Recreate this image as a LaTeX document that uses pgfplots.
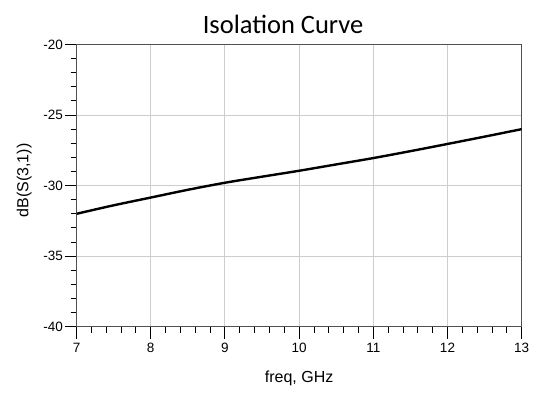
\documentclass[border=0pt]{standalone}
\usepackage{pgfplots}
\pgfplotsset{compat=1.18}
\usepackage{fontspec}
\setmainfont{Liberation Sans}
\newfontfamily\titlefont{Carlito}
\definecolor{gridgray}{RGB}{205,205,205}
\definecolor{axgray}{RGB}{80,80,80}
\begin{document}
\begin{tikzpicture}
\begin{axis}[
  scale only axis,
  width=445pt, height=282pt,
  xmin=7, xmax=13, ymin=-40, ymax=-20,
  xtick={7,8,...,13}, ytick={-40,-35,...,-20},
  minor tick num=4,
  tick align=outside,
  major tick length=12pt, minor tick length=6pt,
  xtick pos=bottom, ytick pos=left,
  grid=major,
  major grid style={gridgray, line width=1pt},
  axis line style={axgray, line width=1.1pt},
  every tick/.style={black, line width=0.9pt},
  tick label style={font=\fontsize{13.5}{15}\selectfont},
  /pgf/number format/assume math mode=true,
  xticklabel style={yshift=-1pt},
  yticklabel style={xshift=2pt},
  xlabel={freq, GHz},
  ylabel={dB(S(3,1))},
  label style={font=\fontsize{16}{18}\selectfont},
  xlabel style={yshift=-11pt},
  ylabel style={yshift=5pt, xshift=5pt},
  title={Isolation Curve},
  title style={font=\titlefont\fontsize{26.5}{30}\selectfont, yshift=1pt, xshift=-16pt},
]
\addplot[black, line width=2.4pt, smooth] coordinates {
(7,-32.0) (7.5,-31.40) (8,-30.85) (8.5,-30.30) (9,-29.80) (9.5,-29.37)
(10,-28.95) (10.5,-28.50) (11,-28.05) (11.5,-27.56) (12,-27.05) (12.5,-26.53) (13,-26.0)
};
\end{axis}
\path (current axis.south west) ++(-76.5pt,-66.3pt) coordinate (bl);
\path (current axis.north east) ++(13.3pt,44.5pt) coordinate (tr);
\pgfresetboundingbox
\path[use as bounding box] (bl) rectangle (tr);
\end{tikzpicture}
\end{document}
